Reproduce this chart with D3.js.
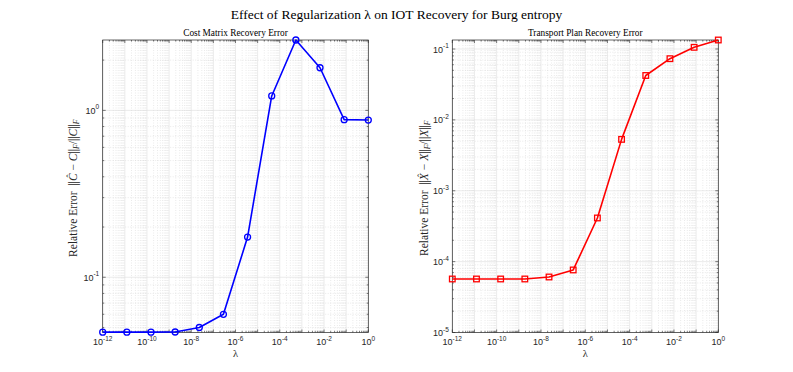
<!DOCTYPE html>
<html><head><meta charset="utf-8">
<script src="https://cdn.jsdelivr.net/npm/d3@7"></script>
<style>body{margin:0;background:#fff}</style></head>
<body>
<svg id="c" width="793" height="372" xmlns="http://www.w3.org/2000/svg"></svg>
<script>
// ---- data ----
const lambdas = [1e-12, 1.2328e-11, 1.5199e-10, 1.8738e-9, 2.3101e-8, 2.8480e-7,
                 3.5112e-6, 4.3288e-5, 5.3367e-4, 6.5793e-3, 8.1113e-2, 1];
const costErr = [0.0469, 0.0469, 0.0469, 0.0470, 0.0500, 0.0600,
                 0.174, 1.22, 2.64, 1.80, 0.880, 0.875];
const planErr = [5.69e-5, 5.69e-5, 5.69e-5, 5.69e-5, 6.07e-5, 7.63e-5,
                 4.13e-4, 5.31e-3, 0.0423, 0.0730, 0.1056, 0.1340];
const xTickExps = [-12, -10, -8, -6, -4, -2, 0];
const costYTickExps = [-1, 0];
const planYTickExps = [-5, -4, -3, -2, -1];
const mainTitle = "Effect of Regularization \u03bb on IOT Recovery for Burg entropy";
const panelTitles = ["Cost Matrix Recovery Error", "Transport Plan Recovery Error"];

const svg = d3.select("#c");
const AX = "#262626";
const SERIF = "'Liberation Serif','DejaVu Serif',serif";
const SANS = "'Liberation Sans',Helvetica,Arial,sans-serif";

svg.append("text").attr("x", 396.5).attr("y", 18.5).attr("text-anchor", "middle")
  .attr("font-family", SERIF).attr("font-size", 13.5).attr("fill", "#000").text(mainTitle);

function panel(opt) {
  const {x0, x1, y0, y1, data, yDomain, yTicks, color, marker, title, hatLetter} = opt;
  const g = svg.append("g");
  const x = d3.scaleLog().domain([1e-12, 1]).range([x0, x1]);
  const y = d3.scaleLog().domain(yDomain).range([y1, y0]);

  const xMinor = [];
  for (let k = -12; k < 0; k++) for (let m = 2; m <= 9; m++) xMinor.push(m * Math.pow(10, k));
  const yMinor = [];
  const lo = Math.floor(Math.log10(yDomain[0])), hi = Math.ceil(Math.log10(yDomain[1]));
  for (let k = lo; k < hi; k++) for (let m = 2; m <= 9; m++) {
    const v = m * Math.pow(10, k);
    if (v >= yDomain[0] && v <= yDomain[1]) yMinor.push(v);
  }
  const xMajor = d3.range(-12, 1).map(e => Math.pow(10, e));
  const yMajor = d3.range(lo, hi + 1).map(e => Math.pow(10, e)).filter(v => v >= yDomain[0] * 0.9999 && v <= yDomain[1] * 1.0001);

  g.append("g").selectAll("line").data(xMinor).join("line")
    .attr("x1", d => x(d)).attr("x2", d => x(d)).attr("y1", y0).attr("y2", y1)
    .attr("stroke", "#d4d4d4").attr("stroke-width", 0.5).attr("stroke-dasharray", "1,1.5");
  g.append("g").selectAll("line").data(yMinor).join("line")
    .attr("y1", d => y(d)).attr("y2", d => y(d)).attr("x1", x0).attr("x2", x1)
    .attr("stroke", "#d4d4d4").attr("stroke-width", 0.5).attr("stroke-dasharray", "1,1.5");
  g.append("g").selectAll("line").data(xMajor).join("line")
    .attr("x1", d => x(d)).attr("x2", d => x(d)).attr("y1", y0).attr("y2", y1)
    .attr("stroke", "#dedede").attr("stroke-width", 0.6);
  g.append("g").selectAll("line").data(yMajor).join("line")
    .attr("y1", d => y(d)).attr("y2", d => y(d)).attr("x1", x0).attr("x2", x1)
    .attr("stroke", "#dedede").attr("stroke-width", 0.6);

  const tk = g.append("g").attr("stroke", AX).attr("stroke-width", 0.6);
  xMajor.forEach(v => {
    tk.append("line").attr("x1", x(v)).attr("x2", x(v)).attr("y1", y1).attr("y2", y1 - 3);
    tk.append("line").attr("x1", x(v)).attr("x2", x(v)).attr("y1", y0).attr("y2", y0 + 3);
  });
  xMinor.forEach(v => {
    tk.append("line").attr("x1", x(v)).attr("x2", x(v)).attr("y1", y1).attr("y2", y1 - 1.6);
    tk.append("line").attr("x1", x(v)).attr("x2", x(v)).attr("y1", y0).attr("y2", y0 + 1.6);
  });
  yMajor.forEach(v => {
    tk.append("line").attr("y1", y(v)).attr("y2", y(v)).attr("x1", x0).attr("x2", x0 + 3);
    tk.append("line").attr("y1", y(v)).attr("y2", y(v)).attr("x1", x1).attr("x2", x1 - 3);
  });
  yMinor.forEach(v => {
    tk.append("line").attr("y1", y(v)).attr("y2", y(v)).attr("x1", x0).attr("x2", x0 + 1.6);
    tk.append("line").attr("y1", y(v)).attr("y2", y(v)).attr("x1", x1).attr("x2", x1 - 1.6);
  });

  g.append("rect").attr("x", x0).attr("y", y0).attr("width", x1 - x0).attr("height", y1 - y0)
    .attr("fill", "none").attr("stroke", AX).attr("stroke-width", 0.7);

  xTickExps.forEach(e => {
    const t = g.append("text").attr("x", x(Math.pow(10, e))).attr("y", y1 + 12.5)
      .attr("text-anchor", "middle").attr("font-family", SANS).attr("font-size", 9).attr("fill", AX);
    t.append("tspan").text("10");
    t.append("tspan").attr("dy", -4.5).attr("font-size", 6.5).text(String(e));
  });
  yTicks.forEach(e => {
    const t = g.append("text").attr("x", x0 - 3.5).attr("y", y(Math.pow(10, e)) + 3.5)
      .attr("text-anchor", "end").attr("font-family", SANS).attr("font-size", 9).attr("fill", AX);
    t.append("tspan").text("10");
    t.append("tspan").attr("dy", -4.5).attr("font-size", 6.5).text(String(e));
  });

  g.append("text").attr("x", (x0 + x1) / 2).attr("y", y0 - 4).attr("text-anchor", "middle")
    .attr("font-family", SERIF).attr("font-size", 9.3).attr("fill", "#000").text(title);
  g.append("text").attr("x", (x0 + x1) / 2).attr("y", y1 + 24).attr("text-anchor", "middle")
    .attr("font-family", SERIF).attr("font-size", 10.5).attr("fill", AX).text("\u03bb");

  // y label with a hat drawn over the first letter
  const cy = (y0 + y1) / 2 + 2;
  const lg = g.append("g").attr("transform", `translate(${opt.ylabX},${cy}) rotate(-90)`);
  const fs = 11.5;
  const yl = lg.append("text").attr("text-anchor", "middle").attr("font-family", SERIF)
    .attr("font-size", fs).attr("fill", AX);
  const pre = "Relative Error\u00a0\u00a0||";
  yl.append("tspan").text(pre);
  yl.append("tspan").attr("font-style", "italic").text(hatLetter);
  yl.append("tspan").text("\u00a0\u2212\u00a0");
  yl.append("tspan").attr("font-style", "italic").text(hatLetter);
  yl.append("tspan").text("||");
  yl.append("tspan").attr("font-style", "italic").attr("font-size", 7.5).attr("dy", 2).text("F");
  yl.append("tspan").attr("dy", -2).text("/||");
  yl.append("tspan").attr("font-style", "italic").text(hatLetter);
  yl.append("tspan").text("||");
  yl.append("tspan").attr("font-style", "italic").attr("font-size", 7.5).attr("dy", 2).text("F");
  let ext;
  try { ext = yl.node().getExtentOfChar(pre.length); } catch (e) { ext = null; }
  if (ext) {
    lg.append("text").attr("x", ext.x + ext.width / 2 + 1.2).attr("y", ext.y + 6)
      .attr("text-anchor", "middle").attr("font-family", SERIF).attr("font-size", 9)
      .attr("fill", AX).text("\u02c6");
  }

  const pts = lambdas.map((l, i) => [l, data[i]]);
  g.append("path").datum(pts)
    .attr("d", d3.line().x(d => x(d[0])).y(d => y(d[1])))
    .attr("fill", "none").attr("stroke", color).attr("stroke-width", 1.6).attr("stroke-linejoin", "round");
  if (marker === "circle") {
    g.append("g").selectAll("circle").data(pts).join("circle")
      .attr("cx", d => x(d[0])).attr("cy", d => y(d[1])).attr("r", 3)
      .attr("fill", "none").attr("stroke", color).attr("stroke-width", 1.3);
  } else {
    g.append("g").selectAll("rect").data(pts).join("rect")
      .attr("x", d => x(d[0]) - 2.8).attr("y", d => y(d[1]) - 2.8).attr("width", 5.6).attr("height", 5.6)
      .attr("fill", "none").attr("stroke", color).attr("stroke-width", 1.3);
  }
}

panel({x0: 102.7, x1: 368.3, y0: 40, y1: 332.5, data: costErr,
  yDomain: [d3.min(costErr) * 0.995, d3.max(costErr)], yTicks: costYTickExps,
  color: "#0000ff", marker: "circle", title: panelTitles[0], hatLetter: "C", ylabX: 77});
panel({x0: 452.3, x1: 718.3, y0: 40, y1: 332.5, data: planErr,
  yDomain: [1e-5, d3.max(planErr)], yTicks: planYTickExps,
  color: "#ff0000", marker: "square", title: panelTitles[1], hatLetter: "X", ylabX: 428});
</script>
</body></html>
